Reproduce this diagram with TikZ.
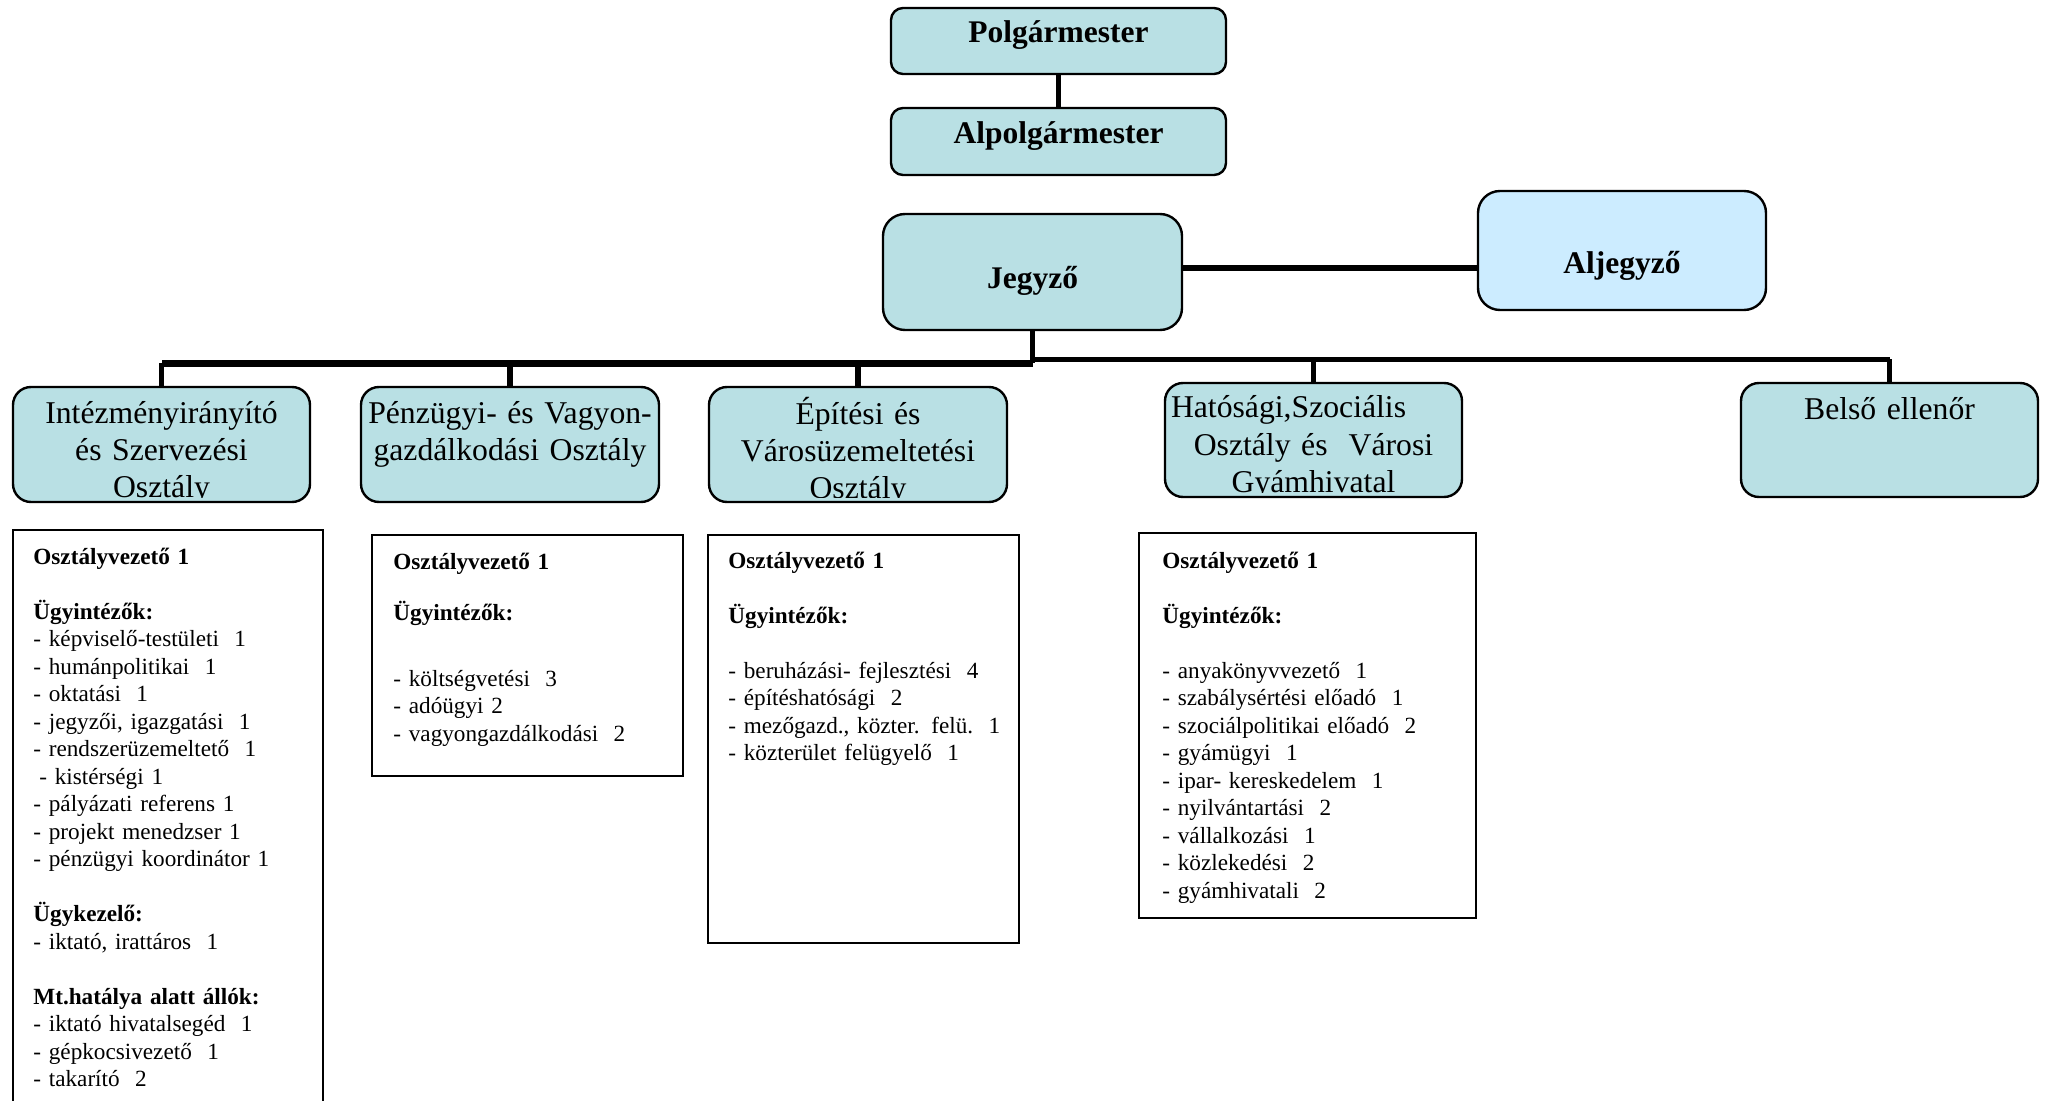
\documentclass[tikz,border=0pt]{standalone}
\usepackage{fontspec}
\setmainfont{Liberation Serif}
\usetikzlibrary{fit,calc}
\definecolor{boxteal}{RGB}{185,224,228}
\definecolor{boxblue}{RGB}{204,236,255}
\begin{document}
\begin{tikzpicture}[x=0.5pt,y=-0.5pt,
  rbox/.style={draw=black, line width=1.2pt, rounded corners=9pt, fill=boxteal, inner sep=0pt},
  lbox/.style={draw=black, line width=1pt, inner sep=0pt},
  conn/.style={line width=2.6pt},
  hdr/.style={font=\fontsize{15.75}{18}\selectfont\bfseries, anchor=base, inner sep=0pt},
  dept/.style={font=\fontsize{15.85}{18.6}\selectfont, anchor=base, inner sep=0pt, text width=148pt, align=center},
  listtxt/.style={anchor=base west, inner sep=0pt, text width=165pt, align=left, font=\fontsize{11.6}{13.75}\selectfont}
]
\useasboundingbox (0,0) rectangle (2045,1101);
\clip (0,0) rectangle (2045,1101);

% top boxes
\node[rbox, rounded corners=6pt, fit={(891,8) (1226,74)}] (pm) {};
\node[hdr] (pmt) at (1058.5,43) {Polgármester};
\node[rbox, rounded corners=6pt, fit={(891,108) (1226,175)}] (apm) {};
\node[hdr] (apmt) at (1058.5,144) {Alpolgármester};
\draw[conn] (pm.south) -- (apm.north);

\node[rbox, rounded corners=11pt, fit={(883,214) (1182,330)}] (jegy) {};
\node[hdr] (jegyt) at (1032.5,288.5) {Jegyző};
\node[rbox, rounded corners=11pt, fill=boxblue, fit={(1478,191) (1766,310)}] (alj) {};
\node[hdr] (aljt) at (1622,273.5) {Aljegyző};
\draw[conn] ([yshift=2pt]jegy.east) -- ([yshift=2pt]jegy.east -| alj.west);

% department boxes
\node[rbox, fit={(13,387) (310,502)}] (d1) {};
\node[rbox, fit={(361,387) (659,502)}] (d2) {};
\node[rbox, fit={(709,387) (1007,502)}] (d3) {};
\node[rbox, fit={(1165,383) (1462,497)}] (d4) {};
\node[rbox, fit={(1741,383) (2038,497)}] (d5) {};

\begin{scope}
\clip[rounded corners=9pt] (13,387) rectangle (310,497);
\node[dept] (d1t) at (161.5,423.6) {Intézményirányító\\ és Szervezési\\ Osztály};
\end{scope}
\node[dept] (d2t) at (510,423) {Pénzügyi- és Vagyon-\\ gazdálkodási Osztály};
\begin{scope}
\clip[rounded corners=9pt] (709,387) rectangle (1007,497);
\node[dept] (d3t) at (858,424) {Építési és\\ Városüzemeltetési\\ Osztály};
\end{scope}
\begin{scope}
\clip[rounded corners=9pt] (1165,383) rectangle (1462,492);
\node[dept] (d4t) at (1313.5,418) {\makebox[\linewidth][l]{\hspace*{2.75pt}Hatósági,Szociális}\\ Osztály és\ \ Városi\\ Gyámhivatal};
\end{scope}
\node[dept] (d5t) at (1889.5,420) {Belső ellenőr};

% bus
\draw[conn] (jegy.south) -- ++(0,32) coordinate (busL);
\coordinate (busR) at ($(busL)+(0,-4)$);
\draw[line width=3.4pt] (busL) -- (busL -| d1.north);
\draw[conn] (d1.north) -- (d1.north |- busL);
\draw[conn] (d2.north) -- (d2.north |- busL);
\draw[conn] (d3.north) -- (d3.north |- busL);
\draw[conn] (busR) -- (busR -| d5.north);
\draw[conn] (d4.north) -- (d4.north |- busR);
\draw[conn] (d5.north) -- (d5.north |- busR);

% staff boxes
\node[lbox, fit={(13,530) (323,1130)}] (b1) {};
\node[lbox, fit={(372,535) (683,776)}] (b2) {};
\node[lbox, fit={(708,535) (1019,943)}] (b3) {};
\node[lbox, fit={(1139,533) (1476,918)}] (b4) {};

\node[listtxt] (b1t) at (33,564) {\textbf{Osztályvezető 1}\\[13.75pt]
\textbf{Ügyintézők:}\\
- képviselő-testületi~~1\\
- humánpolitikai~~1\\
- oktatási~~1\\
- jegyzői, igazgatási~~1\\
- rendszerüzemeltető~~1\\
\hspace*{3pt}- kistérségi 1\\
- pályázati referens 1\\
- projekt menedzser 1\\
- pénzügyi koordinátor 1\\[13.75pt]
\textbf{Ügykezelő:}\\
- iktató, irattáros~~1\\[13.75pt]
\textbf{Mt.hatálya alatt állók:}\\
- iktató hivatalsegéd~~1\\
- gépkocsivezető~~1\\
- takarító~~2};

\node[listtxt] (b2t) at (393,569) {\textbf{Osztályvezető 1}\\[11.75pt]
\textbf{Ügyintézők:}\\[19.25pt]
- költségvetési~~3\\
- adóügyi 2\\
- vagyongazdálkodási~~2};

\node[listtxt] (b3t) at (728,568) {\textbf{Osztályvezető 1}\\[13.75pt]
\textbf{Ügyintézők:}\\[13.75pt]
- beruházási- fejlesztési~~4\\
- építéshatósági~~2\\
- mezőgazd., közter. felü.~~1\\
- közterület felügyelő~~1};

\node[listtxt] (b4t) at (1162,568) {\textbf{Osztályvezető 1}\\[13.75pt]
\textbf{Ügyintézők:}\\[13.75pt]
- anyakönyvvezető~~1\\
- szabálysértési előadó~~1\\
- szociálpolitikai előadó~~2\\
- gyámügyi~~1\\
- ipar- kereskedelem~~1\\
- nyilvántartási~~2\\
- vállalkozási~~1\\
- közlekedési~~2\\
- gyámhivatali~~2};
\end{tikzpicture}
\end{document}
